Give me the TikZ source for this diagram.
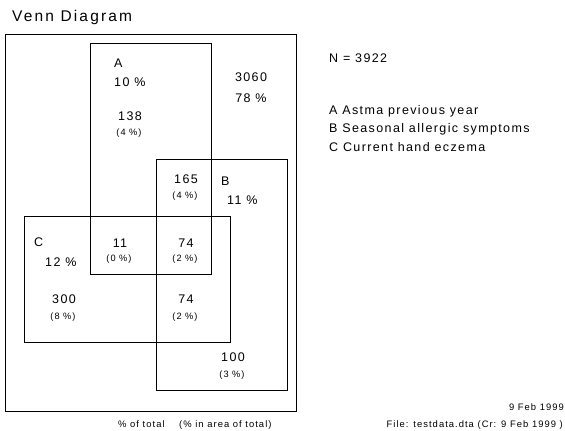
\documentclass[tikz,border=0pt]{standalone}
\usepackage{fontspec}
\setmainfont{Liberation Sans}[LetterSpace=11]
\begin{document}
\begin{tikzpicture}[x=1pt,y=-1pt,
  box/.style={draw=black,line width=0.9pt},
  big/.style={font=\fontsize{12.5}{14}\selectfont,inner sep=0pt},
  small/.style={font=\fontsize{9.2}{11}\selectfont,inner sep=0pt},
  foot/.style={font=\fontsize{9.4}{11}\selectfont,inner sep=0pt},
  ttl/.style={font=\fontsize{15.5}{17}\selectfont\addfontfeature{LetterSpace=14},inner sep=0pt}]
\useasboundingbox (0,0) rectangle (565,431);
% title
\node[ttl,anchor=west] (title) at (12,17) {Venn Diagram};
% rectangles
\draw[box] (5.5,34) rectangle (296,411);
\draw[box] (90,43) rectangle (211,274);
\draw[box] (156,159) rectangle (287,390);
\draw[box] (24,216) rectangle (230,342);
% A
\node[big,anchor=west] (Alab) at (114,63) {A};
\node[big,anchor=west] (Apct) at (114,82) {10 \%};
\node[big] (Aonly) at (130,116) {138};
\node[small] (Aonlyp) at (129,133) {(4 \%)};
% outside
\node[big] (out) at (251,77) {3060};
\node[big] (outp) at (251,98) {78 \%};
% AB
\node[big] (AB) at (186,179) {165};
\node[small] (ABp) at (185,196) {(4 \%)};
% B
\node[big,anchor=west] (Blab) at (221,181) {B};
\node[big,anchor=west] (Bpct) at (227,200) {11 \%};
% C
\node[big,anchor=west] (Clab) at (34,242) {C};
\node[big,anchor=west] (Cpct) at (45,262) {12 \%};
% AC
\node[big] (AC) at (120,243) {11};
\node[small] (ACp) at (119,259) {(0 \%)};
% ABC
\node[big] (ABC) at (186,243) {74};
\node[small] (ABCp) at (185,259) {(2 \%)};
% C only
\node[big] (Conly) at (64,299) {300};
\node[small] (Conlyp) at (63,317) {(8 \%)};
% BC
\node[big] (BC) at (186,299) {74};
\node[small] (BCp) at (185,317) {(2 \%)};
% B only
\node[big] (Bonly) at (233,357) {100};
\node[small] (Bonlyp) at (232,375) {(3 \%)};
% legend
\node[big,anchor=west] (N) at (329,58) {N = 3922};
\node[big,anchor=west] (legA) at (329,111) {A Astma previous year};
\node[big,anchor=west] (legB) at (329,129) {B Seasonal allergic symptoms};
\node[big,anchor=west] (legC) at (329,147) {C Current hand eczema};
% footer
\node[foot,anchor=west] (note) at (118,425) {\% of total\ \ \ \ (\% in area of total)};
\node[foot,anchor=east] (date) at (564,407) {9 Feb 1999};
\node[foot,anchor=east] (file) at (563,425) {File: testdata.dta (Cr: 9 Feb 1999 )};
\end{tikzpicture}
\end{document}
